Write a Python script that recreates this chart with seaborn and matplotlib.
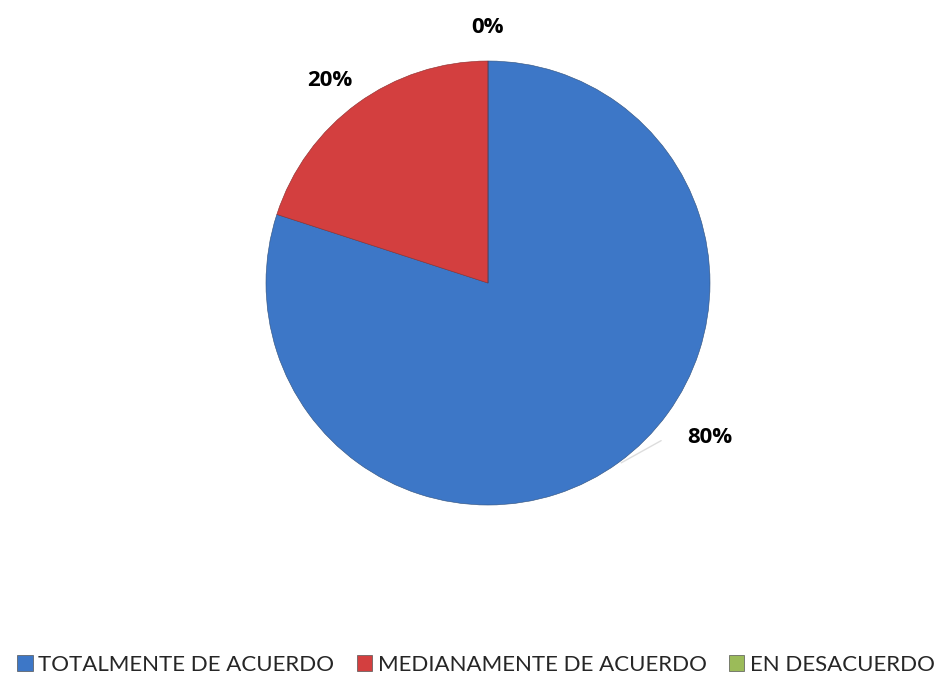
import matplotlib
matplotlib.use("Agg")
import matplotlib.pyplot as plt
import seaborn as sns
from matplotlib.patches import Patch

# datos
categorias = ["TOTALMENTE DE ACUERDO", "MEDIANAMENTE DE ACUERDO", "EN DESACUERDO"]
porcentajes = [80, 20, 0]
etiquetas = ["80%", "20%", "0%"]
colores = ["#3D77C7", "#D33F3F", "#9BBB59"]

sns.set_theme(style="white")
plt.rcParams["font.family"] = ["Lato", "DejaVu Sans"]

fig = plt.figure(figsize=(9.52, 6.87), dpi=100)
ax = fig.add_axes([0.2794, 0.2649, 0.4664, 0.6463])

wedges, _ = ax.pie(porcentajes, colors=colores, startangle=90, counterclock=False,
                   radius=1.0, wedgeprops=dict(edgecolor="#2f4f7a", linewidth=0.4))
wedges[1].set_edgecolor("#8a2a2a")
ax.set_xlim(-1, 1)
ax.set_ylim(-1, 1)
ax.set_aspect("auto")
ax.axis("off")

# posiciones de etiquetas (fuera del pastel)
pos = [(1.0, -0.694), (-0.712, 0.914), (0.0, 1.153)]
for (x, y), t in zip(pos, etiquetas):
    ax.text(x, y, t, ha="center", va="center", fontsize=16, fontweight="bold",
            family=["Open Sans", "DejaVu Sans"], color="black")
ax.plot([0.6, 0.78], [-0.81, -0.71], color="#dddddd", lw=1)

handles = [Patch(facecolor=c, edgecolor="#555555", linewidth=0.5) for c in colores]
fig.legend(handles, categorias, loc="center", bbox_to_anchor=(0.5, 1 - 665 / 687),
           ncol=3, frameon=False, fontsize=16, handlelength=0.7, handleheight=0.7,
           handletextpad=0.25, columnspacing=1.0)

fig.savefig("out.png", dpi=100)
